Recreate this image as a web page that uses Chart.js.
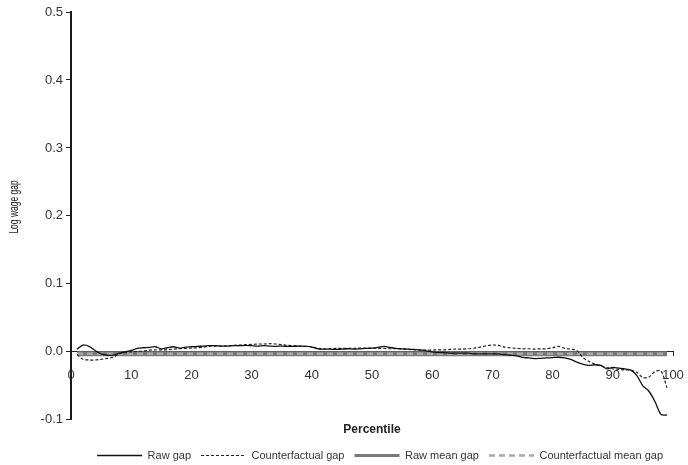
<!DOCTYPE html>
<html lang="en">

<head>
    <meta charset="UTF-8" />
    <title>Log wage gap by percentile</title>
    <script src="https://cdn.jsdelivr.net/npm/chart.js"></script>
    <style>
        html, body {
            margin: 0;
            padding: 0;
            background: #fff;
        }

        .chart-container {
            width: 688px;
            height: 465px;
        }
    </style>
</head>

<body>
    <div class="chart-container">
        <canvas id="gapChart" width="688" height="465"></canvas>
    </div>

    <script>
        // Percentiles (x categories)
        const percentiles = [
            1, 2, 3, 4, 5, 6, 7, 8, 9, 10,
            11, 12, 13, 14, 15, 16, 17, 18, 19, 20,
            21, 22, 23, 24, 25, 26, 27, 28, 29, 30,
            31, 32, 33, 34, 35, 36, 37, 38, 39, 40,
            41, 42, 43, 44, 45, 46, 47, 48, 49, 50,
            51, 52, 53, 54, 55, 56, 57, 58, 59, 60,
            61, 62, 63, 64, 65, 66, 67, 68, 69, 70,
            71, 72, 73, 74, 75, 76, 77, 78, 79, 80,
            81, 82, 83, 84, 85, 86, 87, 88, 89, 90,
            91, 92, 93, 94, 95, 96, 97, 98, 99
        ];

        // Raw gap (solid black line)
        const rawGap = [
            0.004, 0.010, 0.008, 0.002, -0.003, -0.005, -0.005, -0.002, 0.000, 0.002,
            0.005, 0.006, 0.0065, 0.0075, 0.0045, 0.006, 0.0075, 0.0055, 0.007, 0.0075,
            0.008, 0.0085, 0.009, 0.009, 0.0085, 0.0085, 0.009, 0.009, 0.0095, 0.009,
            0.0085, 0.009, 0.0085, 0.008, 0.0085, 0.008, 0.008, 0.0085, 0.008, 0.007,
            0.0045, 0.004, 0.004, 0.0035, 0.004, 0.0045, 0.004, 0.0045, 0.005, 0.0055,
            0.0065, 0.008, 0.0065, 0.005, 0.0045, 0.004, 0.0035, 0.003, 0.0015, 0.000,
            -0.001, -0.001, -0.002, -0.002, -0.002, -0.002, -0.003, -0.003, -0.003, -0.003,
            -0.003, -0.004, -0.005, -0.006, -0.008, -0.009, -0.010, -0.0095, -0.009, -0.0085,
            -0.008, -0.009, -0.011, -0.015, -0.018, -0.020, -0.019, -0.020, -0.025, -0.023,
            -0.024, -0.025, -0.027, -0.035, -0.050, -0.058, -0.073, -0.092, -0.093
        ];

        // Counterfactual gap (dashed black line)
        const counterfactualGap = [
            -0.004, -0.011, -0.012, -0.012, -0.011, -0.0095, -0.008, -0.003, -0.001, 0.000,
            0.0005, 0.001, 0.0025, 0.003, 0.003, 0.003, 0.004, 0.0045, 0.005, 0.0055,
            0.006, 0.007, 0.008, 0.0085, 0.0085, 0.009, 0.0095, 0.010, 0.0105, 0.011,
            0.0115, 0.0115, 0.012, 0.0115, 0.0105, 0.0095, 0.009, 0.0085, 0.008, 0.0075,
            0.005, 0.0045, 0.0045, 0.005, 0.005, 0.005, 0.005, 0.0055, 0.0055, 0.0055,
            0.005, 0.005, 0.0045, 0.0045, 0.004, 0.0035, 0.003, 0.0025, 0.0025, 0.0025,
            0.003, 0.003, 0.0035, 0.004, 0.004, 0.0045, 0.0055, 0.007, 0.009, 0.010,
            0.0095, 0.007, 0.006, 0.005, 0.0045, 0.0045, 0.004, 0.0045, 0.0045, 0.006,
            0.008, 0.005, 0.004, 0.002, -0.008, -0.014, -0.018, -0.021, -0.023, -0.025,
            -0.026, -0.0265, -0.027, -0.030, -0.038, -0.037, -0.029, -0.028, -0.053
        ];

        // Mean gaps (horizontal lines over the percentile range)
        const meanRange = [1, 99];
        const rawMeanGap = -0.003;
        const counterfactualMeanGap = -0.003;

        // Axis ticks
        const xTicks = [0, 10, 20, 30, 40, 50, 60, 70, 80, 90, 100];
        const yTicks = [-0.1, 0.0, 0.1, 0.2, 0.3, 0.4, 0.5];

        const sansFamily = "'Liberation Sans', Arial, sans-serif";
        const tickFont = { family: sansFamily, size: 13 };

        // y title in a squeezed face, the original uses a condensed font
        const yTitlePlugin = {
            id: "yTitle",
            afterDraw(chart) {
                const ctx = chart.ctx;
                const area = chart.chartArea;
                ctx.save();
                ctx.translate(15, (area.top + area.bottom) / 2 - 9);
                ctx.rotate(-Math.PI / 2);
                ctx.scale(0.68, 1);
                ctx.font = "12.5px " + sansFamily;
                ctx.fillStyle = "#222";
                ctx.textAlign = "center";
                ctx.textBaseline = "middle";
                ctx.fillText("Log wage gap", 0, 0);
                ctx.restore();
            },
        };

        const gapData = {
            labels: percentiles,
            datasets: [
                {
                    label: "Raw gap",
                    data: rawGap,
                    borderColor: "#111",
                    borderWidth: 1.3,
                    pointRadius: 0,
                    tension: 0.3,
                    order: 0,
                },
                {
                    label: "Counterfactual gap",
                    data: counterfactualGap,
                    borderColor: "#222",
                    borderWidth: 1.2,
                    borderDash: [3, 2],
                    pointRadius: 0,
                    tension: 0.3,
                    order: 1,
                },
                {
                    label: "Raw mean gap",
                    data: meanRange.map(p => ({ x: p, y: rawMeanGap })),
                    borderColor: "#7a7a7a",
                    borderWidth: 5,
                    pointRadius: 0,
                    order: 3,
                },
                {
                    label: "Counterfactual mean gap",
                    data: meanRange.map(p => ({ x: p, y: counterfactualMeanGap })),
                    borderColor: "#a8a8a8",
                    borderWidth: 2.5,
                    borderDash: [6, 4],
                    pointRadius: 0,
                    order: 2,
                },
            ],
        };

        const gapConfig = {
            type: "line",
            data: gapData,
            plugins: [yTitlePlugin],
            options: {
                responsive: false,
                animation: false,
                layout: {
                    padding: { top: 12, right: 15, bottom: -6, left: 0 },
                },
                plugins: {
                    legend: {
                        display: true,
                        position: "bottom",
                        align: "end",
                        title: {
                            display: true,
                            text: "",
                            font: { size: 1 },
                            padding: { top: 0, bottom: 19 },
                        },
                        labels: {
                            usePointStyle: true,
                            pointStyleWidth: 45,
                            padding: 10,
                            color: "#333",
                            font: { family: sansFamily, size: 11 },
                            generateLabels: (chart) => chart.data.datasets.map((ds, i) => ({
                                text: ds.label,
                                datasetIndex: i,
                                strokeStyle: ds.borderColor,
                                fillStyle: ds.borderColor,
                                lineWidth: ds.label === "Raw mean gap" ? 3 : ds.borderWidth,
                                lineDash: ds.borderDash || [],
                                pointStyle: "line",
                                hidden: false,
                                fontColor: "#333",
                            })),
                        },
                    },
                    tooltip: { enabled: false },
                },
                scales: {
                    x: {
                        type: "linear",
                        min: 0,
                        max: 100,
                        position: { y: 0 },
                        afterBuildTicks: (scale) => {
                            scale.ticks = xTicks.map(v => ({ value: v }));
                        },
                        afterFit: (scale) => {
                            // label padding should not shrink the plot width
                            scale.paddingLeft = 0;
                            scale.paddingRight = 12;
                        },
                        ticks: {
                            color: "#333",
                            font: tickFont,
                            padding: 12,
                            maxRotation: 0,
                        },
                        grid: {
                            drawOnChartArea: false,
                            drawTicks: true,
                            tickLength: 4,
                            color: "#222",
                        },
                        border: { color: "#222", width: 1 },
                        title: {
                            display: true,
                            text: "Percentile",
                            color: "#222",
                            font: { family: sansFamily, size: 12, weight: "bold" },
                            padding: { top: 27, bottom: 0 },
                        },
                    },
                    y: {
                        min: -0.1,
                        max: 0.5,
                        afterBuildTicks: (scale) => {
                            scale.ticks = yTicks.map(v => ({ value: v }));
                        },
                        afterFit: (scale) => {
                            scale.width = 71;
                        },
                        ticks: {
                            color: "#333",
                            font: tickFont,
                            padding: 3,
                            callback: (v) => Number(v).toFixed(1),
                        },
                        grid: {
                            drawOnChartArea: false,
                            drawTicks: true,
                            tickLength: 5,
                            color: "#222",
                        },
                        border: { color: "#1a1a1a", width: 2 },
                    },
                },
            },
        };

        window.onload = function () {
            const gapCtx = document.getElementById("gapChart").getContext("2d");
            new Chart(gapCtx, gapConfig);
        };
    </script>
</body>

</html>
